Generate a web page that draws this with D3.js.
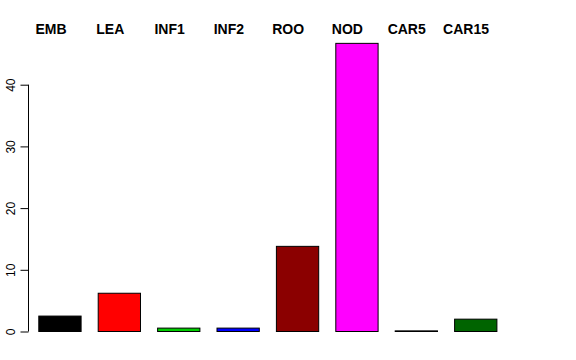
<!DOCTYPE html>
<html>
<head>
<meta charset="utf-8">
<script src="https://cdn.jsdelivr.net/npm/d3@7"></script>
<style>
  body { margin: 0; background: #fff; }
  text { font-family: "Liberation Sans", Arial, sans-serif; }
</style>
</head>
<body>
<div id="chart"></div>
<script>
var categories = ["EMB", "LEA", "INF1", "INF2", "ROO", "NOD", "CAR5", "CAR15"];
var values = [2.5, 6.2, 0.55, 0.55, 13.8, 46.7, 0.1, 2.0];
var colors = ["#000000", "#FF0000", "#00CD00", "#0000FF", "#8B0000", "#FF00FF", "#000000", "#006400"];
var yTicks = [0, 10, 20, 30, 40];

var attrs = {
    width: 576,
    height: 360,
    axisX: 28.5,
    barLeft: 38.3,
    barRight: 496.4,
    base: 331,
    unit: 6.17,
    labelLeft: 51,
    labelRight: 466,
    labelY: 34,
    tickLen: 8,
    tickLabelGap: 14
};

var svg = d3.select("#chart").append("svg")
    .attr("width", attrs.width)
    .attr("height", attrs.height);

var x = d3.scaleBand()
    .domain(categories)
    .range([attrs.barLeft, attrs.barRight])
    .paddingInner(0.288)
    .paddingOuter(0);

var y = d3.scaleLinear()
    .domain([0, 50])
    .range([attrs.base, attrs.base - 50 * attrs.unit]);

// category labels sit in their own row along the top, a bit left of each bar centre
var labelX = d3.scalePoint()
    .domain(categories)
    .range([attrs.labelLeft, attrs.labelRight]);

svg.selectAll(".bar")
    .data(values)
    .enter().append("rect")
    .attr("class", "bar")
    .attr("x", function(d, i) { return x(categories[i]) + 0.5; })
    .attr("y", function(d) { return y(d) + 0.5; })
    .attr("width", x.bandwidth())
    .attr("height", function(d) { return Math.max(0, y(0) - y(d)); })
    .attr("fill", function(d, i) { return colors[i]; })
    .attr("stroke", "#000")
    .attr("stroke-width", 1);

svg.selectAll(".catLabel")
    .data(categories)
    .enter().append("text")
    .attr("class", "catLabel")
    .attr("x", function(d) { return labelX(d); })
    .attr("y", attrs.labelY)
    .attr("text-anchor", "middle")
    .attr("font-size", "14px")
    .attr("font-weight", "bold")
    .text(function(d) { return d; });

// y axis, R style: line spans first to last tick, labels rotated
var yAxis = d3.axisLeft(y)
    .tickValues(yTicks)
    .tickSize(attrs.tickLen)
    .tickSizeOuter(0);

var gy = svg.append("g")
    .attr("transform", "translate(" + attrs.axisX + ",0.5)")
    .call(yAxis);
gy.select(".domain")
    .attr("d", "M0," + y(yTicks[0]) + "V" + y(yTicks[yTicks.length - 1]))
    .attr("stroke", "#000");
gy.selectAll(".tick line").attr("stroke", "#000");
gy.selectAll(".tick text")
    .attr("font-size", "12px")
    .attr("font-family", "Liberation Sans, Arial, sans-serif")
    .attr("fill", "#000")
    .attr("x", null)
    .attr("dy", null)
    .attr("text-anchor", "middle")
    .attr("transform", "translate(" + (-attrs.tickLabelGap) + ",0) rotate(-90)");
</script>
</body>
</html>
